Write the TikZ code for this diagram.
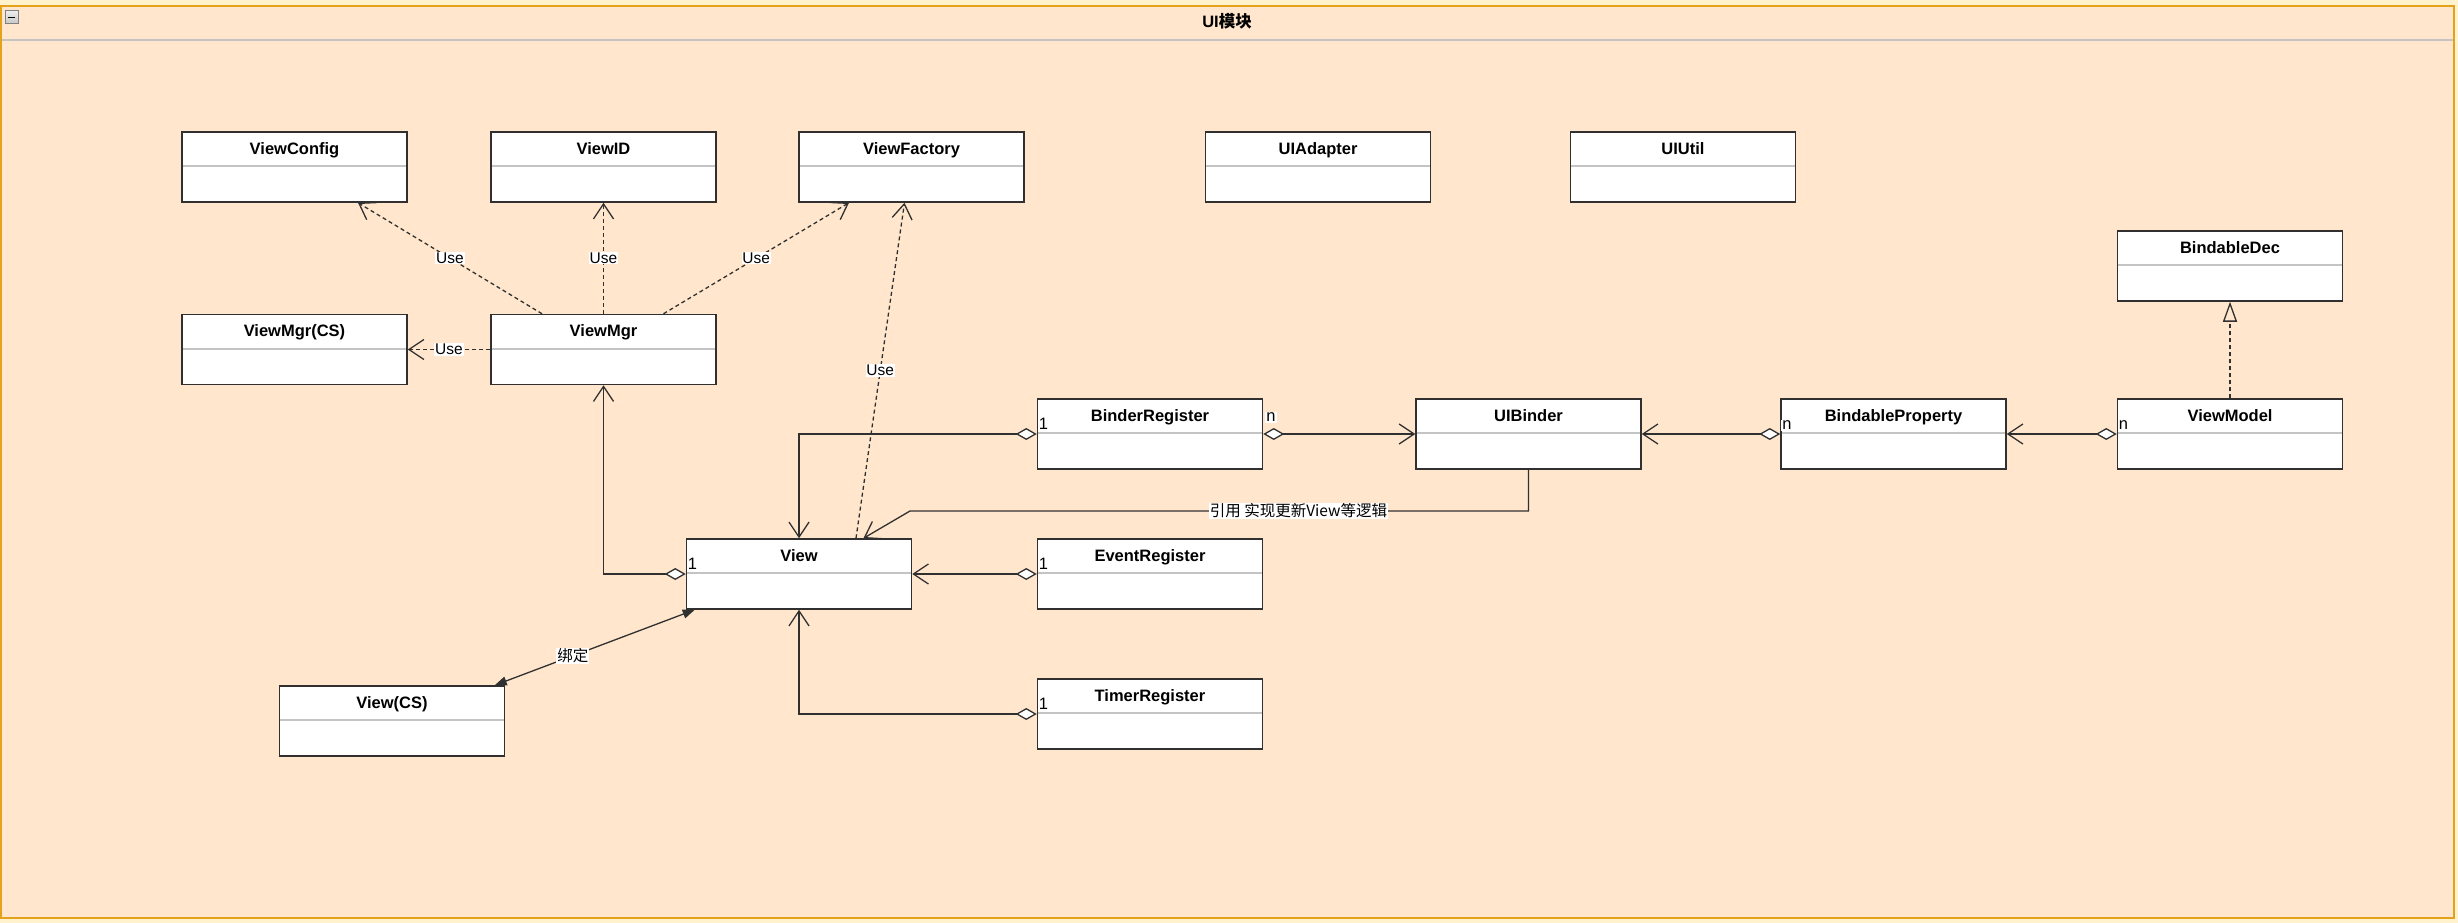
\documentclass[tikz,border=0pt]{standalone}
\usepackage{fontspec}
\setmainfont{Liberation Sans}
\newfontfamily\cjk{Noto Sans CJK SC}
\usetikzlibrary{arrows.meta}
\definecolor{outerbg}{HTML}{FFF2CC}
\definecolor{framebg}{HTML}{FFE6CC}
\definecolor{framedraw}{HTML}{E3A21A}
\definecolor{sepgray}{HTML}{C4C4C4}
\definecolor{linec}{HTML}{303030}
\begin{document}
\begin{tikzpicture}[x=1pt,y=-1pt,
  cls/.style={draw=linec, line width=1.5pt, fill=white, minimum width=225pt,
    inner xsep=0pt, inner ysep=7pt, text height=15pt, text depth=41pt,
    font=\bfseries\fontsize{16.5}{18}\selectfont,
    path picture={\draw[sepgray,line width=2pt]
      ([yshift=-34pt]path picture bounding box.north west) --
      ([yshift=-34pt]path picture bounding box.north east);}},
  barb/.tip={Straight Barb[length=15pt,width=20pt,line width=1.3pt]},
  usedep/.style={draw=linec, line width=1.3pt, dash pattern=on 4pt off 3pt, -barb},
  agg/.style={draw=linec, line width=1.3pt,
    {Diamond[length=21pt,width=12pt,fill=white,line width=1.3pt]}-barb},
  assoc/.style={draw=linec, line width=1.3pt, -barb},
  bind/.style={draw=linec, line width=1.3pt,
    {Triangle[length=12pt,width=9pt]}-{Triangle[length=12pt,width=9pt]}},
  real/.style={draw=linec, line width=1.3pt, dash pattern=on 4pt off 3pt,
    -{Triangle[open,length=20pt,width=14pt,line width=1.3pt]}},
  lbl/.style={fill=white, inner sep=0.8pt, text=black, font=\fontsize{15.5}{17}\selectfont},
  mult/.style={fill=white, inner sep=1pt, text=black, font=\fontsize{16.5}{18}\selectfont}
]
\useasboundingbox (0,0) rectangle (2458,923);
% frame
\fill[outerbg] (0,0) rectangle (2458,923);
\draw[framedraw, line width=2pt, fill=framebg] (1,6) rectangle (2454,918);
\draw[sepgray, line width=2pt] (2,40) -- (2453,40);
\draw[gray, line width=1pt, top color=gray!15, bottom color=gray!45] (5,11) rectangle (18,24);
\draw[black, line width=1.6pt] (8,17.5) -- (15,17.5);
\node[font=\bfseries\fontsize{16.5}{18}\selectfont, inner sep=0pt] (title) at (1227,21) {UI{\cjk 模块}};

% classes
\node[cls] (viewconfig) at (294.5,167) {ViewConfig};
\node[cls] (viewid) at (603.5,167) {ViewID};
\node[cls] (viewfactory) at (911.5,167) {ViewFactory};
\node[cls] (uiadapter) at (1318,167) {UIAdapter};
\node[cls] (uiutil) at (1683,167) {UIUtil};
\node[cls] (bindabledec) at (2230,266) {BindableDec};
\node[cls] (viewmgrcs) at (294.5,349.5) {ViewMgr(CS)};
\node[cls] (viewmgr) at (603.5,349.5) {ViewMgr};
\node[cls] (binderregister) at (1150,434) {BinderRegister};
\node[cls] (uibinder) at (1528.5,434) {UIBinder};
\node[cls] (bindableproperty) at (1893.5,434) {BindableProperty};
\node[cls] (viewmodel) at (2230,434) {ViewModel};
\node[cls] (view) at (799,574) {View};
\node[cls] (eventregister) at (1150,574) {EventRegister};
\node[cls] (timerregister) at (1150,714) {TimerRegister};
\node[cls] (viewcs) at (392,721) {View(CS)};

% dependencies
\draw[usedep] ([xshift=-61.5pt]viewmgr.north) -- node[lbl] (u1) {Use} ([xshift=63.5pt]viewconfig.south);
\draw[usedep] (viewmgr.north) -- node[lbl] (u2) {Use} (viewid.south);
\draw[usedep] ([xshift=60pt]viewmgr.north) -- node[lbl] (u3) {Use} ([xshift=-62.5pt]viewfactory.south);
\draw[usedep] (viewmgr.west) -- node[lbl] (u4) {Use} (viewmgrcs.east);
\draw[usedep] ([xshift=57pt]view.north) -- node[lbl] (u5) {Use} ([xshift=-7pt]viewfactory.south);

% aggregations
\draw[agg] (view.west) -| (viewmgr.south);
\draw[agg] (binderregister.west) -| (view.north);
\draw[agg] (eventregister.west) -- (view.east);
\draw[agg] (timerregister.west) -| (view.south);
\draw[agg] (binderregister.east) -- (uibinder.west);
\draw[agg] (bindableproperty.west) -- (uibinder.east);
\draw[agg] (viewmodel.west) -- (bindableproperty.east);

% realization
\draw[real] (viewmodel.north) -- (bindabledec.south);

% association UIBinder -> View
\coordinate (bend) at (910,511);
\draw[assoc] (uibinder.south) |- node[lbl, pos=0.686] (lref) {\cjk 引用 实现更新View等逻辑} (bend) -- ([xshift=64.5pt]view.north);

% binding View <-> View(CS)
\draw[bind] ([xshift=9pt]view.south west) -- node[lbl, pos=0.61] (lbind) {\cjk 绑定} ([xshift=-10.5pt]viewcs.north east);

% multiplicities
\node[mult, anchor=south west] (m1) at ([xshift=1pt,yshift=3pt]view.west) {1};
\node[mult, anchor=south west] (m2) at ([xshift=1pt,yshift=3pt]binderregister.west) {1};
\node[mult, anchor=south west] (m3) at ([xshift=1pt,yshift=3pt]eventregister.west) {1};
\node[mult, anchor=south west] (m4) at ([xshift=1pt,yshift=3pt]timerregister.west) {1};
\node[mult, anchor=south west] (m5) at ([xshift=2pt,yshift=11pt]binderregister.east) {n};
\node[mult, anchor=south west] (m6) at ([xshift=1pt,yshift=3pt]bindableproperty.west) {n};
\node[mult, anchor=south west] (m7) at ([xshift=1pt,yshift=3pt]viewmodel.west) {n};
\end{tikzpicture}
\end{document}
